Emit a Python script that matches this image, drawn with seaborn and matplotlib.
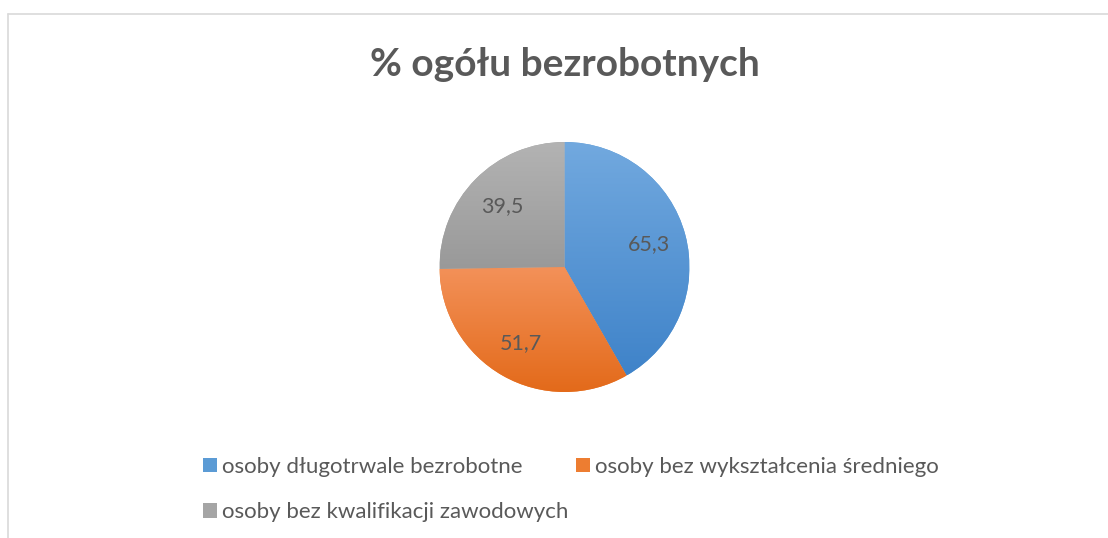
import numpy as np
import matplotlib.pyplot as plt
import seaborn as sns
from matplotlib.patches import Patch
from matplotlib.lines import Line2D
from matplotlib.colors import to_rgb

# data
categories = ["osoby długotrwale bezrobotne",
              "osoby bez wykształcenia średniego",
              "osoby bez kwalifikacji zawodowych"]
values = [65.3, 51.7, 39.5]
title = "% ogółu bezrobotnych"

# slice colours: light top -> dark bottom (Excel-like gradient)
tops = ["#72a9df", "#f39159", "#b3b3b3"]
bottoms = ["#3f83c9", "#e36a1a", "#999999"]
mids = ["#5b9bd5", "#ed7d31", "#a5a5a5"]
text_color = "#595959"

sns.set_theme(style="white")
plt.rcParams["font.family"] = ["Lato", "DejaVu Sans"]

W, H = 1108, 538
fig = plt.figure(figsize=(W / 100, H / 100), dpi=100)

# pie axes placed in pixels
cx, cy, r = 564.5, 267, 125
ax = fig.add_axes([(cx - r) / W, 1 - (cy + r) / H, 2 * r / W, 2 * r / H])

total = sum(values)
wedges, texts, autotexts = ax.pie(
    values, startangle=90, counterclock=False, colors=mids,
    autopct=lambda p: f"{p * total / 100:.1f}".replace(".", ","),
    pctdistance=0.7,
    textprops=dict(color=text_color, fontsize=15.5),
    wedgeprops=dict(linewidth=0))

# gradient fill clipped to each wedge
grad = np.linspace(0, 1, 256)[:, None, None]
for w, c0, c1 in zip(wedges, tops, bottoms):
    ext = w.get_path().get_extents()
    img = (1 - grad) * np.array(to_rgb(c1)) + grad * np.array(to_rgb(c0))
    im = ax.imshow(img, extent=[ext.x0, ext.x1, ext.y0, ext.y1],
                   origin="lower", aspect="auto", zorder=2)
    im.set_clip_path(w)
for t in autotexts:
    t.set_zorder(5)

ax.set_xlim(-1, 1)
ax.set_ylim(-1, 1)
ax.set_axis_off()

# title
fig.text(565 / W, 1 - 65 / H, title, ha="center", va="center",
         fontsize=28, fontweight="bold", color=text_color)

# legend, reordered so it fills row by row
handles = [Patch(facecolor=c, edgecolor="none", label=l) for c, l in zip(mids, categories)]
order = [0, 2, 1]
fig.legend([handles[i] for i in order], [categories[i] for i in order],
           ncol=2, loc="upper left", bbox_to_anchor=(203 / W, 1 - 457 / H),
           frameon=False, fontsize=16, handlelength=0.63, handleheight=0.63,
           handletextpad=0.22, columnspacing=0.36, labelspacing=1.13,
           borderpad=0, borderaxespad=0, labelcolor=text_color)

# chart area border (top and left visible)
fig.add_artist(Line2D([8 / W, 1], [1 - 14 / H, 1 - 14 / H], color="#d9d9d9", lw=1.2))
fig.add_artist(Line2D([8 / W, 8 / W], [0, 1 - 14 / H], color="#d9d9d9", lw=1.2))

fig.savefig("out.png", dpi=100)
